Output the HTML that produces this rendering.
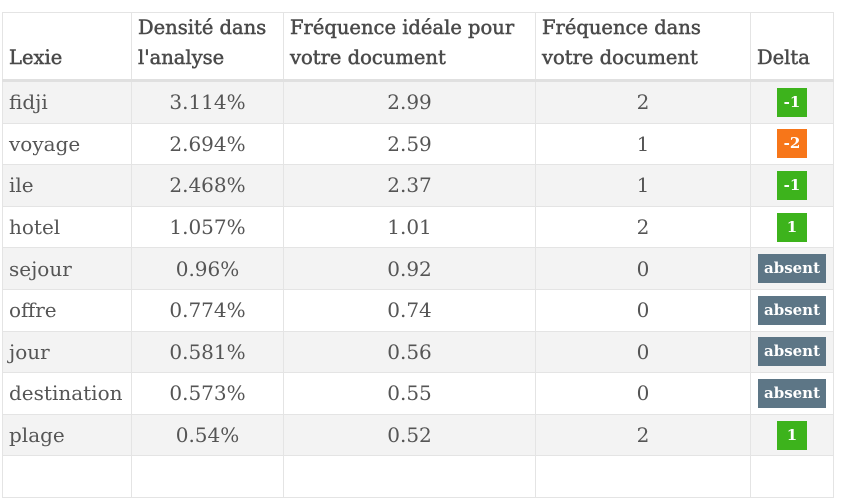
<!DOCTYPE html>
<html><head><meta charset="utf-8"><style>
html,body{margin:0;padding:0;background:#fff;width:842px;height:468px;overflow:hidden}
body{font-family:"DejaVu Serif","Liberation Serif",serif;color:#555}
table{position:absolute;left:2px;top:12px;border-collapse:collapse;table-layout:fixed;width:831px}
th,td{border:1px solid #e4e4e4;padding:0 6px;font-size:20px;white-space:nowrap;overflow:hidden}
th{height:60px;vertical-align:bottom;text-align:left;padding-bottom:6px;line-height:30px;font-weight:normal;color:#4a4a4a;-webkit-text-stroke:0.5px #4a4a4a;border-bottom:3px solid #e0e0e0;font-size:19.5px}
td{height:40.6px;text-align:center}
td:first-child{text-align:left}
tbody tr:nth-child(odd){background:#f3f3f3}
.b{display:inline-block;color:#fff;font-size:15px;font-weight:bold;line-height:29px;padding:0 7px;min-width:16px;vertical-align:middle}
.g{background:#3db31c}.o{background:#f77619}.s{background:#5d7686;padding:0 6px}
</style></head><body>
<table>
<colgroup><col style="width:129px"><col style="width:152px"><col style="width:252px"><col style="width:215px"><col style="width:83px"></colgroup>
<thead><tr>
<th>Lexie</th>
<th>Densité dans<br>l'analyse</th>
<th>Fréquence idéale pour<br>votre document</th>
<th>Fréquence dans<br>votre document</th>
<th>Delta</th>
</tr></thead>
<tbody>
<tr><td>fidji</td><td>3.114%</td><td>2.99</td><td>2</td><td><span class="b g">-1</span></td></tr>
<tr><td>voyage</td><td>2.694%</td><td>2.59</td><td>1</td><td><span class="b o">-2</span></td></tr>
<tr><td>ile</td><td>2.468%</td><td>2.37</td><td>1</td><td><span class="b g">-1</span></td></tr>
<tr><td>hotel</td><td>1.057%</td><td>1.01</td><td>2</td><td><span class="b g">1</span></td></tr>
<tr><td>sejour</td><td>0.96%</td><td>0.92</td><td>0</td><td><span class="b s">absent</span></td></tr>
<tr><td>offre</td><td>0.774%</td><td>0.74</td><td>0</td><td><span class="b s">absent</span></td></tr>
<tr><td>jour</td><td>0.581%</td><td>0.56</td><td>0</td><td><span class="b s">absent</span></td></tr>
<tr><td>destination</td><td>0.573%</td><td>0.55</td><td>0</td><td><span class="b s">absent</span></td></tr>
<tr><td>plage</td><td>0.54%</td><td>0.52</td><td>2</td><td><span class="b g">1</span></td></tr>
<tr><td></td><td></td><td></td><td></td><td></td></tr>
</tbody></table>
</body></html>
